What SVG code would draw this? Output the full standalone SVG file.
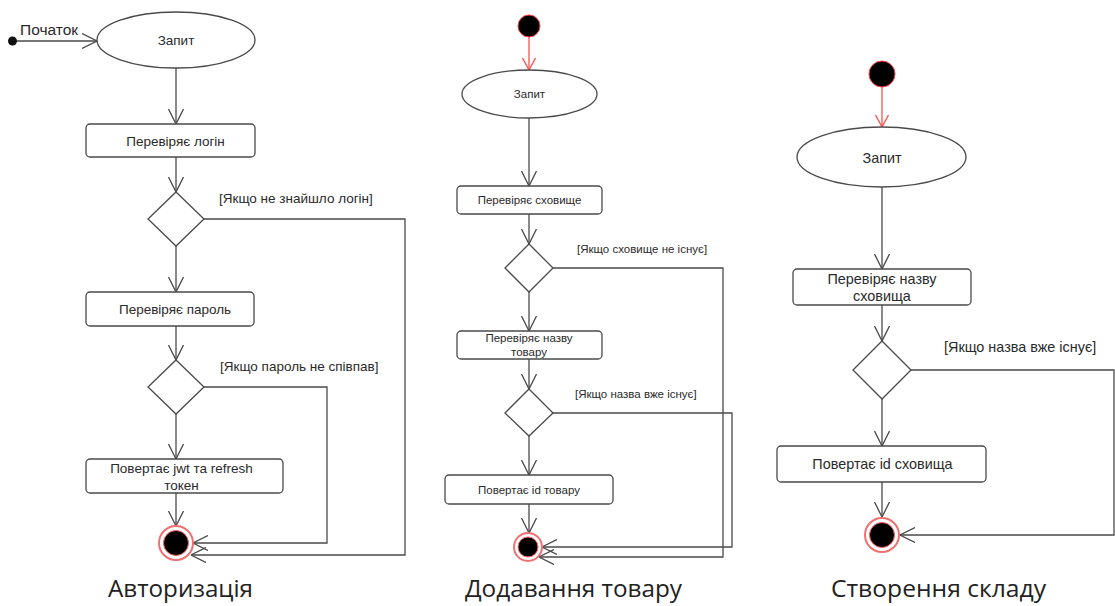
<svg xmlns="http://www.w3.org/2000/svg" width="1115" height="606" viewBox="0 0 1115 606">
  <style>
    .node { fill: #ffffff; stroke: #4a4a4a; stroke-width: 1.3; }
    .lbl { font-family: "Liberation Sans", Arial, sans-serif; fill: #2a2a2a; text-anchor: middle; dominant-baseline: central; }
    .guard { font-family: "Liberation Sans", Arial, sans-serif; fill: #2a2a2a; dominant-baseline: central; }
    .title { font-family: "Open Sans", "Liberation Sans", sans-serif; fill: #222222; font-size: 24.3px; }
    .s-a { font-size: 13.5px; }
    .s-b { font-size: 11.5px; }
    .s-c { font-size: 14.4px; }
    .flow { fill: none; stroke: #4a4a4a; stroke-width: 1.3; marker-end: url(#open); }
    .flow-start { fill: none; stroke: #ff5050; stroke-width: 1.3; marker-end: url(#open-red); }
    .final-ring { fill: #ffffff; stroke: #f07070; stroke-width: 2; }
    .final-dot { fill: #000000; stroke: #ff6060; stroke-width: 1; }
    .initial { fill: #000000; stroke: #ff4040; stroke-width: 1; }
  </style>
  <defs>
    <marker id="open" viewBox="0 0 15 16" markerWidth="15" markerHeight="16" refX="15" refY="8" orient="auto" markerUnits="userSpaceOnUse">
      <path d="M0,0.5 L15,8 L0,15.5" fill="none" stroke="#4a4a4a" stroke-width="1.3"/>
    </marker>
    <marker id="open-red" viewBox="0 0 12 14" markerWidth="12" markerHeight="14" refX="12" refY="7" orient="auto" markerUnits="userSpaceOnUse">
      <path d="M0,0.5 L12,7 L0,13.5" fill="none" stroke="#ff5050" stroke-width="1.3"/>
    </marker>
  </defs>
  <rect width="1115" height="606" fill="#ffffff"/>

  <!-- Connectors -->
  <g id="connectors">
    <!-- Авторизація -->
    <path class="flow" d="M12,41 L97,41"/>
    <path class="flow" d="M176,68 L176,124"/>
    <path class="flow" d="M176,157 L176,192"/>
    <path class="flow" d="M176,246 L176,292"/>
    <path class="flow" d="M176,326 L176,360"/>
    <path class="flow" d="M176,414 L176,459"/>
    <path class="flow" d="M176,493 L176,526"/>
    <path class="flow" d="M204,219 L405,219 L405,555 L191,555"/>
    <path class="flow" d="M204,387 L327,387 L327,543 L193,543"/>
    <!-- Додавання товару -->
    <path class="flow-start" d="M529,37 L529,70"/>
    <path class="flow" d="M529,118 L529,186"/>
    <path class="flow" d="M529,214 L529,244"/>
    <path class="flow" d="M529,292 L529,331"/>
    <path class="flow" d="M529,359 L529,389"/>
    <path class="flow" d="M529,436 L529,475"/>
    <path class="flow" d="M529,504 L529,533"/>
    <path class="flow" d="M553,268 L723,268 L723,557 L539,557"/>
    <path class="flow" d="M553,413 L732,413 L732,547 L542,547"/>
    <!-- Створення складу -->
    <path class="flow-start" d="M882,87 L882,127"/>
    <path class="flow" d="M882,187 L882,269"/>
    <path class="flow" d="M882,305 L882,341"/>
    <path class="flow" d="M882,399 L882,446"/>
    <path class="flow" d="M882,482 L882,517"/>
    <path class="flow" d="M911,370 L1114,370 L1114,535 L900,535"/>
  </g>

  <!-- Авторизація -->
  <g id="a-start">
    <circle cx="12.5" cy="41" r="4.5" fill="#111111"/>
    <text class="guard" x="20" y="29" font-size="15.5">Початок</text>
  </g>
  <g id="a-request">
    <ellipse class="node" cx="176" cy="40" rx="79" ry="28"/>
    <text class="lbl s-a" x="176" y="40">Запит</text>
  </g>
  <g id="a-check-login">
    <rect class="node" x="86" y="124" width="169" height="33" rx="4"/>
    <text class="lbl s-a" x="175.5" y="141">Перевіряє логін</text>
  </g>
  <g id="a-login-decision">
    <path class="node" d="M176,192 L204,219 L176,246 L148,219 Z"/>
    <text class="guard s-a" x="219" y="198">[Якщо не знайшло логін]</text>
  </g>
  <g id="a-check-password">
    <rect class="node" x="86" y="292" width="168" height="34" rx="4"/>
    <text class="lbl s-a" x="175" y="309">Перевіряє пароль</text>
  </g>
  <g id="a-password-decision">
    <path class="node" d="M176,360 L204,387 L176,414 L148,387 Z"/>
    <text class="guard s-a" x="220" y="366">[Якщо пароль не співпав]</text>
  </g>
  <g id="a-return-tokens">
    <rect class="node" x="86" y="459" width="197" height="34" rx="4"/>
    <text class="lbl s-a" x="181.5" y="468.5">Повертає jwt та refresh</text>
    <text class="lbl s-a" x="181.5" y="485">токен</text>
  </g>
  <g id="a-end">
    <circle class="final-ring" cx="176" cy="543" r="17"/>
    <circle class="final-dot" cx="176" cy="543" r="12.5"/>
  </g>
  <text id="a-title" class="title" x="108" y="597" textLength="145" lengthAdjust="spacingAndGlyphs">Авторизація</text>

  <!-- Додавання товару -->
  <g id="b-start">
    <circle class="initial" cx="529" cy="26" r="11"/>
  </g>
  <g id="b-request">
    <ellipse class="node" cx="529.5" cy="94" rx="67.5" ry="24"/>
    <text class="lbl s-b" x="529.5" y="94">Запит</text>
  </g>
  <g id="b-check-storage">
    <rect class="node" x="457" y="186" width="145" height="28" rx="4"/>
    <text class="lbl s-b" x="529.5" y="200">Перевіряє сховище</text>
  </g>
  <g id="b-storage-decision">
    <path class="node" d="M529,244 L553,268 L529,292 L505,268 Z"/>
    <text class="guard s-b" x="577" y="249">[Якщо сховище не існує]</text>
  </g>
  <g id="b-check-name">
    <rect class="node" x="457" y="331" width="145" height="28" rx="4"/>
    <text class="lbl s-b" x="529" y="338">Перевіряє назву</text>
    <text class="lbl s-b" x="529" y="352">товару</text>
  </g>
  <g id="b-name-decision">
    <path class="node" d="M529,389 L553,413 L529,436 L505,413 Z"/>
    <text class="guard s-b" x="575" y="394">[Якщо назва вже існує]</text>
  </g>
  <g id="b-return-id">
    <rect class="node" x="445" y="475" width="168" height="29" rx="4"/>
    <text class="lbl s-b" x="529" y="489.5">Повертає id товару</text>
  </g>
  <g id="b-end">
    <circle class="final-ring" cx="528" cy="547" r="14"/>
    <circle class="final-dot" cx="528" cy="547" r="10"/>
  </g>
  <text id="b-title" class="title" x="465" y="597" textLength="217" lengthAdjust="spacingAndGlyphs">Додавання товару</text>

  <!-- Створення складу -->
  <g id="c-start">
    <circle class="initial" cx="882" cy="74" r="13"/>
  </g>
  <g id="c-request">
    <ellipse class="node" cx="881.5" cy="157" rx="84.5" ry="30"/>
    <text class="lbl s-c" x="882" y="158">Запит</text>
  </g>
  <g id="c-check-name">
    <rect class="node" x="793" y="269" width="178" height="36" rx="4"/>
    <text class="lbl s-c" x="882" y="278.5">Перевіряє назву</text>
    <text class="lbl s-c" x="882" y="296">сховища</text>
  </g>
  <g id="c-name-decision">
    <path class="node" d="M882,341 L911,370 L882,399 L853,370 Z"/>
    <text class="guard s-c" x="944" y="347">[Якщо назва вже існує]</text>
  </g>
  <g id="c-return-id">
    <rect class="node" x="777" y="446" width="209" height="36" rx="4"/>
    <text class="lbl s-c" x="882.5" y="464">Повертає id сховища</text>
  </g>
  <g id="c-end">
    <circle class="final-ring" cx="882" cy="535" r="17"/>
    <circle class="final-dot" cx="882" cy="535" r="12.5"/>
  </g>
  <text id="c-title" class="title" x="831" y="597" textLength="215" lengthAdjust="spacingAndGlyphs">Створення складу</text>
</svg>
